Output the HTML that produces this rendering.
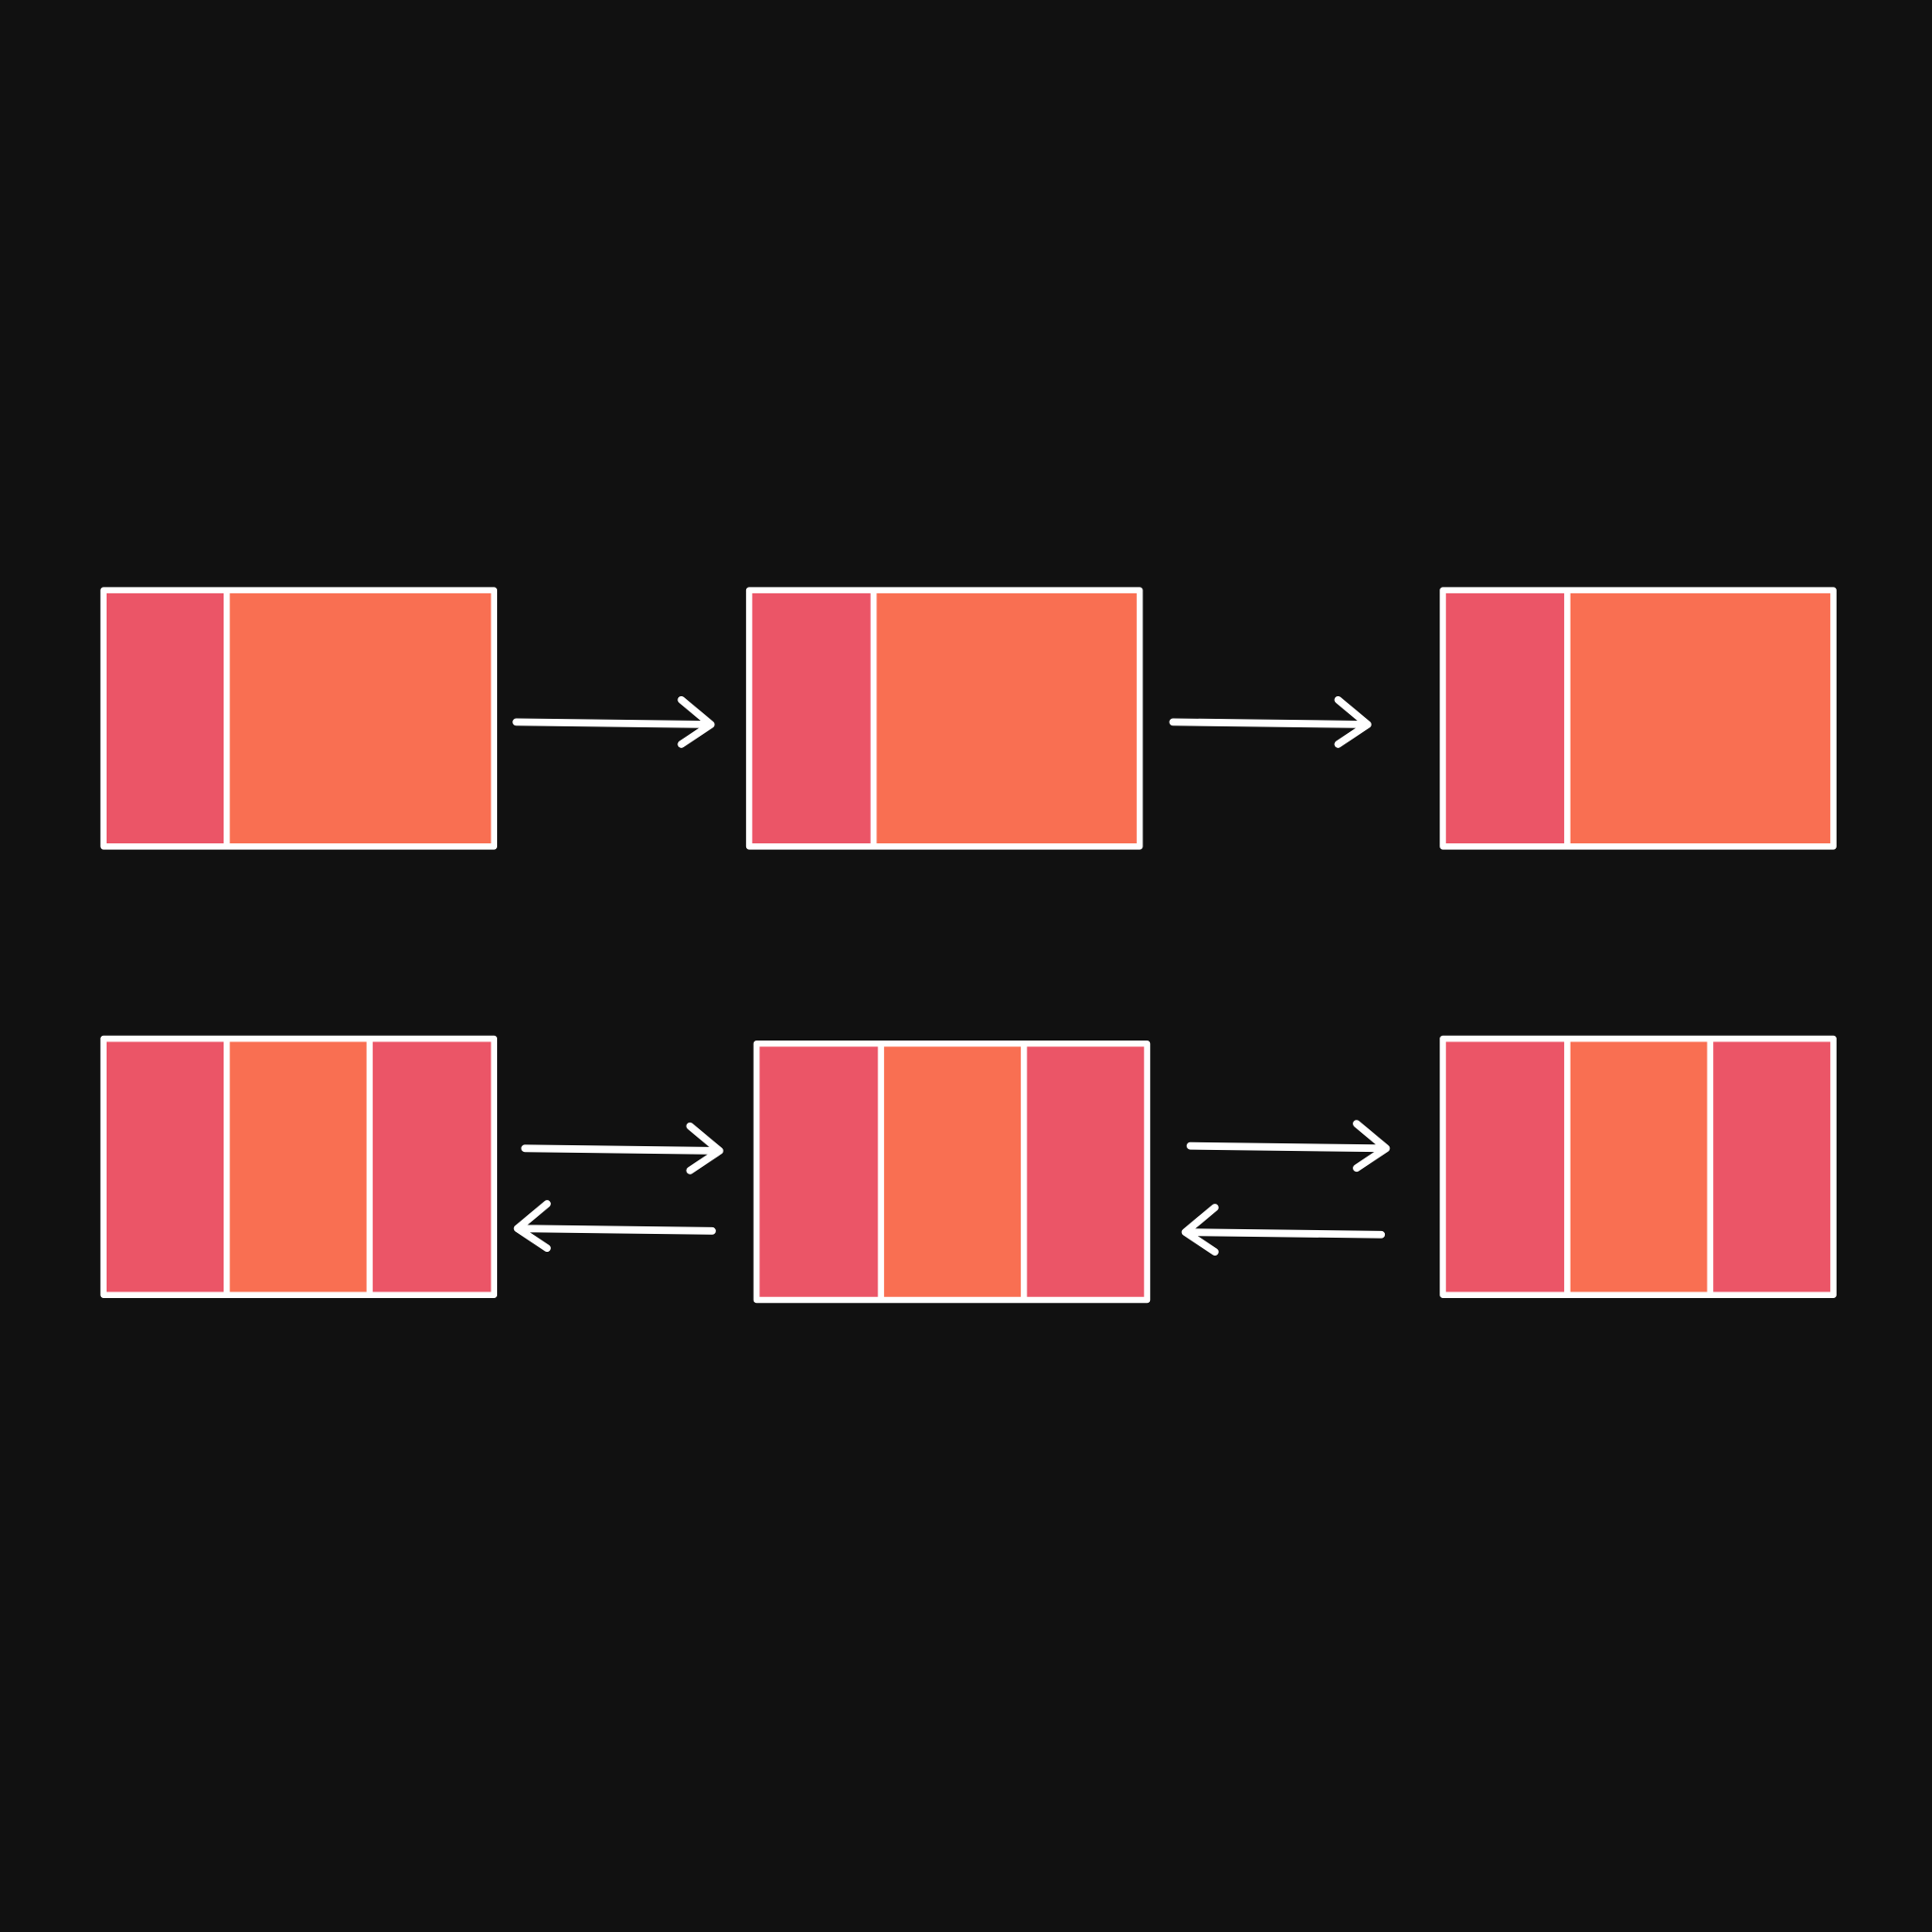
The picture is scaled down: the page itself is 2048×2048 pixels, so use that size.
<!DOCTYPE html>
<html><head><meta charset="utf-8"><style>
html,body{margin:0;padding:0;background:#111111;}
svg{display:block;width:2048px;height:2048px;}
</style></head><body>
<svg id="diagram" viewBox="0 0 1568 1568" xmlns="http://www.w3.org/2000/svg">
<rect x="0" y="0" width="1568" height="1568" fill="#111111"/>
</svg>
<script>
const boxLefts = [84, 608, 1171, 84, 614, 1171];
const boxTops = [479, 479, 479, 843, 847, 843];
const boxWidth = 317;
const boxHeight = 208;
const dividerSets = [[100],[101],[101],[100,216],[101,217],[101,217]];
const arrowStarts = [[419,586],[952,586],[426,932],[578,999],[966,930],[1121,1002]];
const arrowEnds = [[577,588],[1110,588],[584,934],[420,997],[1125,932],[962,1000]];
const RED = '#EB5567', ORANGE = '#F96F52';
const NS = 'http://www.w3.org/2000/svg';
const svg = document.getElementById('diagram');
function mk(tag, attrs){const e=document.createElementNS(NS,tag);for(const k in attrs)e.setAttribute(k,attrs[k]);svg.appendChild(e);return e;}
boxLefts.forEach((x,i)=>{
  const y=boxTops[i];
  const divs=dividerSets[i];
  const edges=[0,...divs,boxWidth];
  for(let s=0;s<edges.length-1;s++){
    const r=mk('rect',{x:x+edges[s],y:y,width:edges[s+1]-edges[s],height:boxHeight,fill:(s%2===0)?RED:ORANGE});
    
    
  }
  const b=mk('rect',{x:x,y:y,width:boxWidth,height:boxHeight,fill:'none',stroke:'#fff','stroke-width':5,'stroke-linejoin':'round'});
  
  
  divs.forEach((d,j)=>{
    const l=mk('line',{x1:x+d,y1:y,x2:x+d,y2:y+boxHeight,stroke:'#fff','stroke-width':5});
    
    
  });
});
arrowStarts.forEach((s,i)=>{
  const e=arrowEnds[i];
  const dir=e[0]>s[0]?1:-1;
  const g=document.createElementNS(NS,'g');
  
  
  svg.appendChild(g);
  const p=document.createElementNS(NS,'path');
  p.setAttribute('d',`M${s[0]},${s[1]} L${e[0]},${e[1]} M${e[0]-24*dir},${e[1]-20} L${e[0]},${e[1]} L${e[0]-24*dir},${e[1]+16}`);
  p.setAttribute('fill','none');p.setAttribute('stroke','#fff');p.setAttribute('stroke-width','6');
  p.setAttribute('stroke-linecap','round');p.setAttribute('stroke-linejoin','round');
  g.appendChild(p);
});
</script>
</body></html>
